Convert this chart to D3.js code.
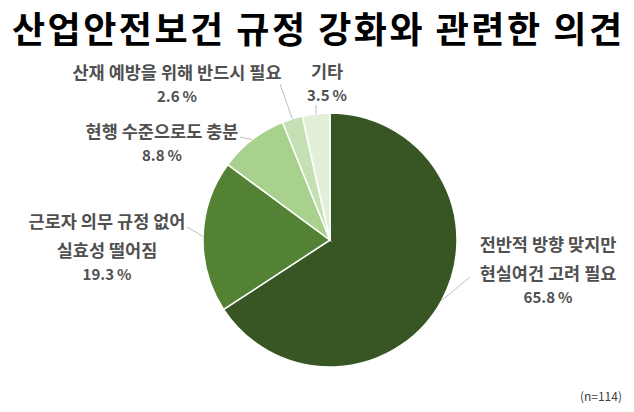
<!DOCTYPE html>
<html>
<head>
<meta charset="utf-8">
<script src="https://cdn.jsdelivr.net/npm/d3@7"></script>
<style>
  body { margin: 0; background: #fff; }
  text { font-family: "Noto Sans CJK KR", "Noto Sans", sans-serif; }
</style>
</head>
<body>
<div id="chart"></div>
<script>
// pie of opinions on tightening safety & health rules
const categories = [
    ["전반적 방향 맞지만", "현실여건 고려 필요"],
    ["근로자 의무 규정 없어", "실효성 떨어짐"],
    ["현행 수준으로도 충분"],
    ["산재 예방을 위해 반드시 필요"],
    ["기타"]
];
const values = [65.8, 19.3, 8.8, 2.6, 3.5];
const colors = ["#375623", "#548235", "#a9d18e", "#c5e0b4", "#e2f0d9"];

const width = 634, height = 412;
const cx = 330, cy = 240, radius = 127;

// where each label sits and where its leader line stops
const labelLayout = [
    {x: 548, y: 251, ex: 470, ey: 277},
    {x: 107, y: 228, ex: 187, ey: 227},
    {x: 162, y: 138, ex: 240, ey: 137},
    {x: 177, y: 79,  ex: 280, ey: 84},
    {x: 327, y: 78,  ex: 316, ey: 105}
];

let svg = d3.select("#chart")
    .append("svg")
    .attr("width", width)
    .attr("height", height);

// title
svg.append("text")
    .attr("x", 12)
    .attr("y", 43)
    .attr("textLength", 610)
    .attr("lengthAdjust", "spacing")
    .style("font-size", "36px")
    .style("font-weight", "bold")
    .attr("fill", "#000")
    .text("산업안전보건 규정 강화와 관련한 의견");

let pie = d3.pie().sort(null).value(function(d) { return d; });
let arcs = pie(values);
let arc = d3.arc().innerRadius(0).outerRadius(radius);

let g = svg.append("g")
    .attr("transform", `translate(${cx}, ${cy})`);

g.selectAll("path")
    .data(arcs)
    .enter()
    .append("path")
    .attr("d", arc)
    .attr("fill", function(d, i) { return colors[i]; })
    .attr("stroke", "#fff")
    .attr("stroke-width", 1.5);

// leader lines from the slice edge to the label
svg.selectAll("line.leader")
    .data(arcs)
    .enter()
    .append("line")
    .attr("class", "leader")
    .attr("x1", function(d) { let a = (d.startAngle + d.endAngle) / 2; return cx + radius * Math.sin(a); })
    .attr("y1", function(d) { let a = (d.startAngle + d.endAngle) / 2; return cy - radius * Math.cos(a); })
    .attr("x2", function(d, i) { return labelLayout[i].ex; })
    .attr("y2", function(d, i) { return labelLayout[i].ey; })
    .attr("stroke", "#bfbfbf")
    .attr("stroke-width", 1);

// labels
let labels = svg.selectAll("g.label")
    .data(arcs)
    .enter()
    .append("g")
    .attr("class", "label")
    .attr("transform", function(d, i) { return `translate(${labelLayout[i].x}, ${labelLayout[i].y})`; });

labels.each(function(d, i) {
    let lab = d3.select(this);
    categories[i].forEach(function(line, j) {
        lab.append("text")
            .attr("y", j * 29)
            .style("text-anchor", "middle")
            .style("font-size", "17.5px")
            .style("font-weight", "bold")
            .attr("fill", "#505050")
            .text(line);
    });
    lab.append("text")
        .attr("y", (categories[i].length - 1) * 29 + 23)
        .style("text-anchor", "middle")
        .style("font-size", "15px")
        .style("font-weight", "bold")
        .attr("fill", "#505050")
        .text(values[i].toFixed(1) + "\u2009%");
});

svg.append("text")
    .attr("x", 622)
    .attr("y", 401)
    .style("text-anchor", "end")
    .style("font-size", "12px")
    .attr("fill", "#404040")
    .text("(n=114)");
</script>
</body>
</html>
